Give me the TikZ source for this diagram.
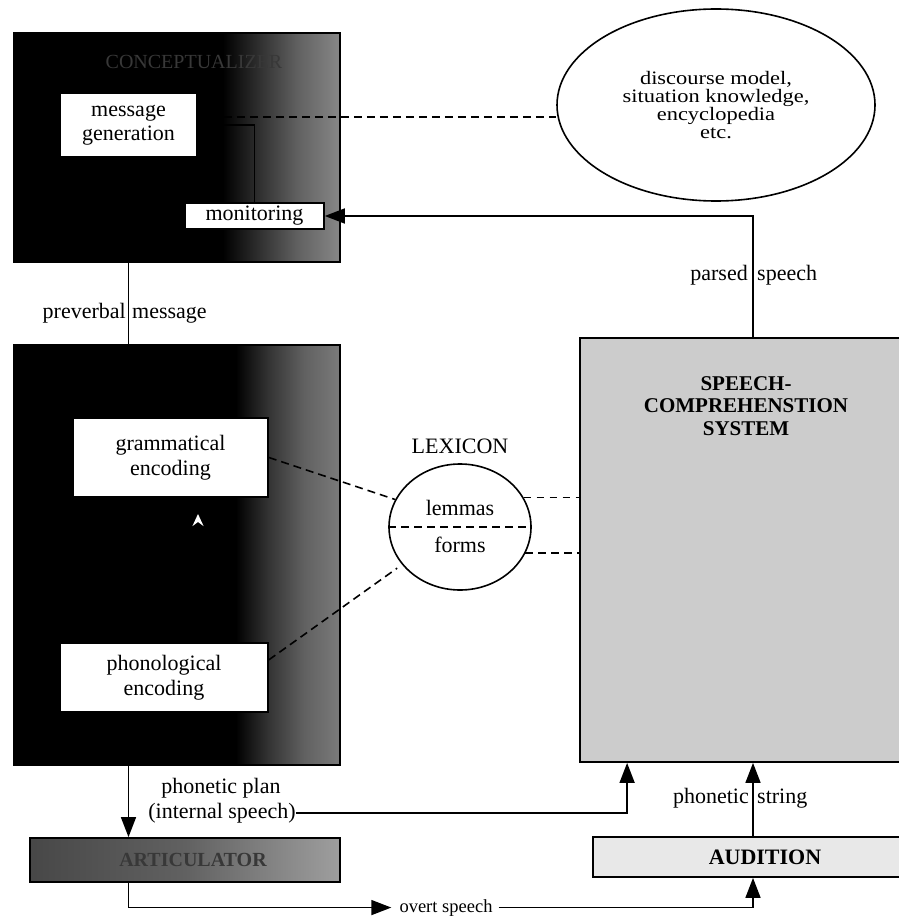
\documentclass[tikz,border=0pt]{standalone}
\usepackage{fontspec}
\setmainfont{Liberation Serif}
\newfontfamily\widefont{Liberation Serif}[FakeStretch=1.18]
\usetikzlibrary{arrows.meta,shapes.geometric,calc}

% dark-to-grey ramps for the processing components (the box spans 25bp..75bp)
\pgfdeclarehorizontalshading{concshade}{100bp}{color(0bp)=(black); color(57bp)=(black);
  color(63bp)=(black!80); color(68.5bp)=(black!62); color(75bp)=(black!47); color(100bp)=(black!47)}
\pgfdeclarehorizontalshading{formshade}{100bp}{color(0bp)=(black); color(59bp)=(black);
  color(64bp)=(black!80); color(69.5bp)=(black!62); color(75bp)=(black!52); color(100bp)=(black!52)}
\pgfdeclarehorizontalshading{articshade}{100bp}{color(0bp)=(black!72); color(25bp)=(black!72);
  color(50bp)=(black!62); color(75bp)=(black!38); color(100bp)=(black!38)}

\begin{document}
\begin{tikzpicture}[x=1pt,y=-1pt,
  lbl/.style={font=\fontsize{22}{24.5}\selectfont, inner sep=0pt},
  whitebox/.style={draw=black, line width=1.6pt, fill=white, inner sep=0pt,
    align=center, font=\fontsize{22}{24.5}\selectfont},
  darkbox/.style={draw=black, line width=1.8pt, inner sep=0pt},
  conn/.style={line width=1.6pt},
  arr/.style={conn, -{Triangle[length=20pt,width=15pt]}},
  dashline/.style={line width=1.6pt, dash pattern=on 8pt off 5pt},
  thindash/.style={line width=1.1pt, dash pattern=on 7pt off 6pt},
  capsb/.style={font=\fontsize{21}{22.5}\selectfont\bfseries, inner sep=0pt, align=center},
]
\useasboundingbox (0,0) rectangle (898,917);
\fill[white] (0,0) rectangle (898,917);

% ---------------- conceptualizer ----------------
\node[darkbox, shading=concshade, minimum width=326pt, minimum height=229pt] (conc) at (177,147.5) {};
\node[font=\fontsize{20}{20}\selectfont, text=black!78, inner sep=0pt] (conclbl) at (194,62) {CONCEPTUALIZER};
\node[whitebox, minimum width=137pt, minimum height=64pt] (msg) at (128.5,125) {message\\generation};
\node[whitebox, minimum width=139pt, minimum height=26pt] (mon) at (254.5,216) {monitoring};
\draw[conn] (msg.east) -| (mon.north);

% ---------------- formulator ----------------
\node[darkbox, shading=formshade, minimum width=326pt, minimum height=420pt] (form) at (177,555) {};
\node[whitebox, minimum width=195pt, minimum height=79pt] (gram) at (170.5,457.5) {grammatical\\encoding};
\node[whitebox, minimum width=208pt, minimum height=69pt] (phon) at (164,677.5) {phonological\\encoding};
\coordinate (fb) at (198,514);
\draw[conn, -{Stealth[color=white, length=12pt, width=11pt, inset=4pt]}] (phon.north -| fb) -- (fb);

% preverbal message
\draw[conn] (msg.south) -- (msg.south |- gram.north);
\node[lbl, anchor=base east] (pv1) at (126,318) {preverbal};
\node[lbl, anchor=base west] (pv2) at (132,318) {message};

% ---------------- articulator ----------------
\node[darkbox, shading=articshade, minimum width=310pt, minimum height=44pt] (artic) at (185,860) {};
\node[font=\fontsize{20}{20}\selectfont\bfseries, text=black!78, inner sep=0pt] (artictxt) at (193,860) {ARTICULATOR};
\draw[arr] (form.south -| msg.south) -- (artic.north -| msg.south);

\node[lbl, anchor=base] (pplan) at (221,793) {phonetic plan};
\node[lbl, anchor=base] (intsp) at (222,818) {(internal speech)};

% ---------------- knowledge store ----------------
\node[ellipse, draw, line width=1.6pt, minimum width=318pt, minimum height=192pt, inner sep=0pt,
  align=center, font=\widefont\fontsize{19}{17.8}\selectfont] (disc) at (716,105)
  {discourse model,\\situation knowledge,\\encyclopedia\\etc.};
\coordinate (dsrc) at ($(msg.east)+(0,-8)$);
\draw[dashline] (dsrc) -- (dsrc -| disc.west);

% ---------------- lexicon ----------------
\node[ellipse, draw, line width=1.6pt, minimum width=142pt, minimum height=126pt, inner sep=0pt] (lex) at (460,527) {};
\node[lbl, anchor=base] (lexlbl) at (460,453) {LEXICON};
\node[lbl, anchor=base] (lemmas) at (460,515) {lemmas};
\node[lbl, anchor=base] (forms) at (460,552) {forms};
\draw[dashline] (lex.west) -- (lex.east);

% ---------------- comprehension ----------------
\node[darkbox, fill=black!20, minimum width=346pt, minimum height=424pt] (comp) at (753,550) {};
\node[capsb] (comptxt) at (746,406) {SPEECH-\\COMPREHENSTION\\SYSTEM};

\node[darkbox, fill=black!9, minimum width=320pt, minimum height=40pt] (aud) at (753,857) {};
\node[capsb, font=\fontsize{22}{22}\selectfont\bfseries] (audtxt) at (765,857) {AUDITION};

% lexicon links
\coordinate (phonpt) at ($(phon.north east)!0.25!(phon.south east)$);
\draw[dashline] (gram.east) -- (lex.157);
\draw[dashline, shorten >=6pt] (phonpt) -- (lex.213);
\draw[thindash] (lex.25) -- (lex.25 -| comp.west);
\draw[dashline, line width=2pt] (lex.-22) -- (lex.-22 -| comp.west);

% ---------------- connectors ----------------
\draw[arr] (comp.north) |- (mon.east);
\node[lbl, anchor=base east] (ps1) at (748,280) {parsed};
\node[lbl, anchor=base west] (ps2) at (757,280) {speech};

\draw[arr] (intsp.east) -| ([xshift=48pt]comp.south west);

\node[lbl, font=\fontsize{18.5}{20}\selectfont, anchor=base] (overt) at (446,912) {overt speech};
\draw[arr, shorten >=8pt] (artic.south -| msg.south) |- (overt.west);
\draw[arr, shorten <=6pt] (overt.east) -| (aud.south);

\draw[arr] (aud.north) -- (comp.south);
\node[lbl, anchor=base east] (phs1) at (749,803) {phonetic};
\node[lbl, anchor=base west] (phs2) at (757,803) {string};
\end{tikzpicture}
\end{document}
